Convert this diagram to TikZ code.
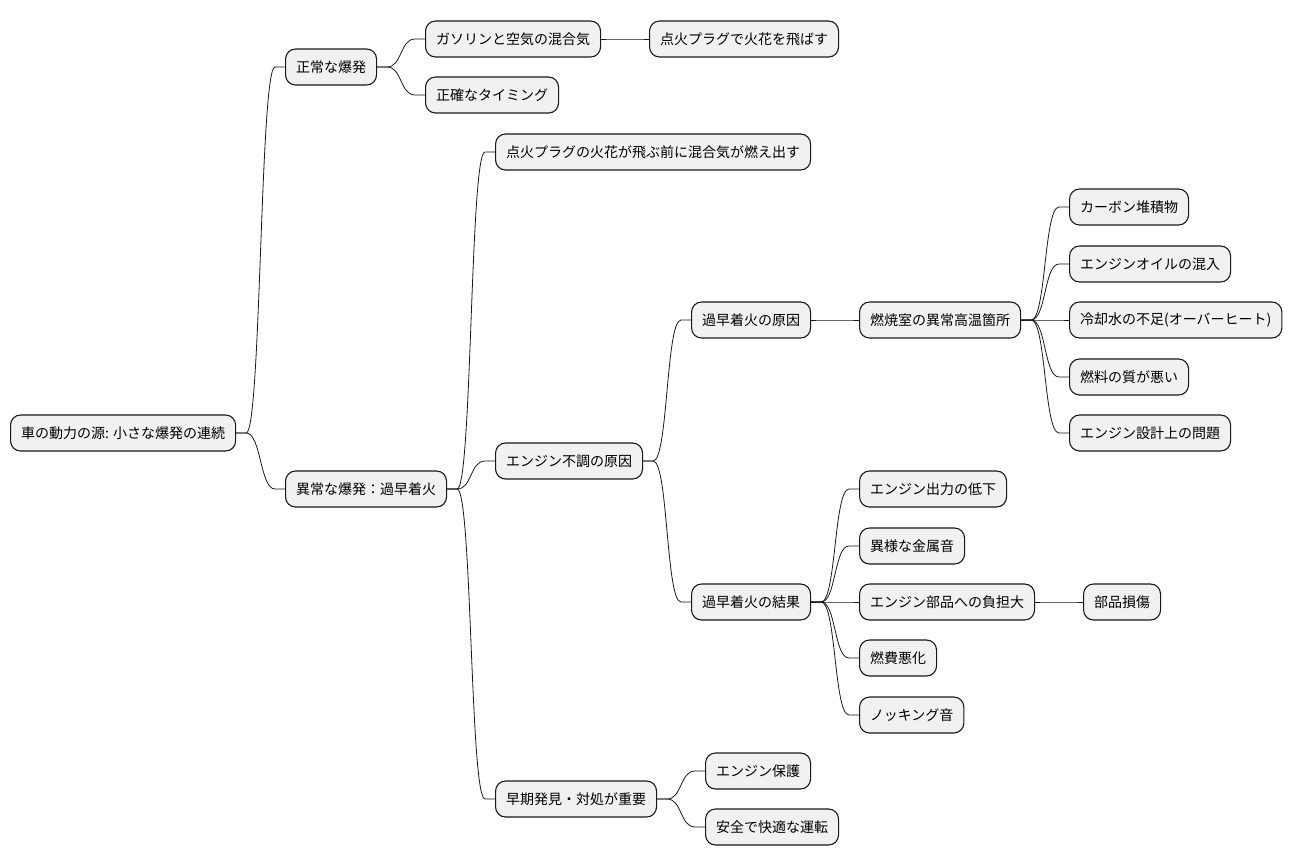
\documentclass[tikz,border=0pt]{standalone}
\usepackage{fontspec}
\setmainfont{Noto Sans CJK JP}
\usetikzlibrary{calc}
\definecolor{boxfill}{HTML}{F1F1F1}
\definecolor{boxline}{HTML}{181818}

\tikzset{
  idea/.style={draw=boxline, fill=boxfill, line width=1.1pt, rounded corners=10pt,
    minimum height=36pt, inner xsep=10.5pt, anchor=west,
    font=\fontsize{14pt}{16pt}\selectfont},
  branch/.style={draw=boxline, line width=0.8pt,
    to path={-- ++(10,0) .. controls +(15,0) and +(-15,0) .. ($(\tikztotarget)+(-10,0)$) -- (\tikztotarget)}}
}

\begin{document}
\begin{tikzpicture}[x=1pt, y=-1pt]

  \useasboundingbox (0,0) rectangle (1293,865);

  % root and first level
  \node[idea] (root) at (10,433) {車の動力の源: 小さな爆発の連続};
  \node[idea] (normal) at (285,67) {正常な爆発};
  \node[idea] (abnormal) at (285,489) {異常な爆発：過早着火};

  % normal explosion
  \node[idea] (mix) at (425,39) {ガソリンと空気の混合気};
  \node[idea] (spark) at (649,39) {点火プラグで火花を飛ばす};
  \node[idea] (timing) at (425,95) {正確なタイミング};

  % abnormal explosion
  \node[idea] (early) at (495,152) {点火プラグの火花が飛ぶ前に混合気が燃え出す};
  \node[idea] (trouble) at (495,461) {エンジン不調の原因};
  \node[idea] (detect) at (495,799) {早期発見・対処が重要};

  % causes
  \node[idea] (cause) at (691,320) {過早着火の原因};
  \node[idea] (hot) at (859,320) {燃焼室の異常高温箇所};
  \node[idea] (carbon) at (1069,207) {カーボン堆積物};
  \node[idea] (oil) at (1069,264) {エンジンオイルの混入};
  \node[idea] (coolant) at (1069,320) {冷却水の不足(オーバーヒート)};
  \node[idea] (fuel) at (1069,377) {燃料の質が悪い};
  \node[idea] (design) at (1069,433) {エンジン設計上の問題};

  % results
  \node[idea] (result) at (691,602) {過早着火の結果};
  \node[idea] (power) at (859,489) {エンジン出力の低下};
  \node[idea] (metal) at (859,546) {異様な金属音};
  \node[idea] (load) at (859,602) {エンジン部品への負担大};
  \node[idea] (damage) at (1083,602) {部品損傷};
  \node[idea] (economy) at (859,658) {燃費悪化};
  \node[idea] (knock) at (859,715) {ノッキング音};

  % detection
  \node[idea] (protect) at (705,771) {エンジン保護};
  \node[idea] (safe) at (705,827) {安全で快適な運転};

  % connectors
  \path (root.east) edge[branch] (normal.west)
        (root.east) edge[branch] (abnormal.west)
        (normal.east) edge[branch] (mix.west)
        (normal.east) edge[branch] (timing.west)
        (mix.east) edge[branch] (spark.west)
        (abnormal.east) edge[branch] (early.west)
        (abnormal.east) edge[branch] (trouble.west)
        (abnormal.east) edge[branch] (detect.west)
        (trouble.east) edge[branch] (cause.west)
        (trouble.east) edge[branch] (result.west)
        (cause.east) edge[branch] (hot.west)
        (hot.east) edge[branch] (carbon.west)
        (hot.east) edge[branch] (oil.west)
        (hot.east) edge[branch] (coolant.west)
        (hot.east) edge[branch] (fuel.west)
        (hot.east) edge[branch] (design.west)
        (result.east) edge[branch] (power.west)
        (result.east) edge[branch] (metal.west)
        (result.east) edge[branch] (load.west)
        (result.east) edge[branch] (economy.west)
        (result.east) edge[branch] (knock.west)
        (load.east) edge[branch] (damage.west)
        (detect.east) edge[branch] (protect.west)
        (detect.east) edge[branch] (safe.west);

\end{tikzpicture}
\end{document}
